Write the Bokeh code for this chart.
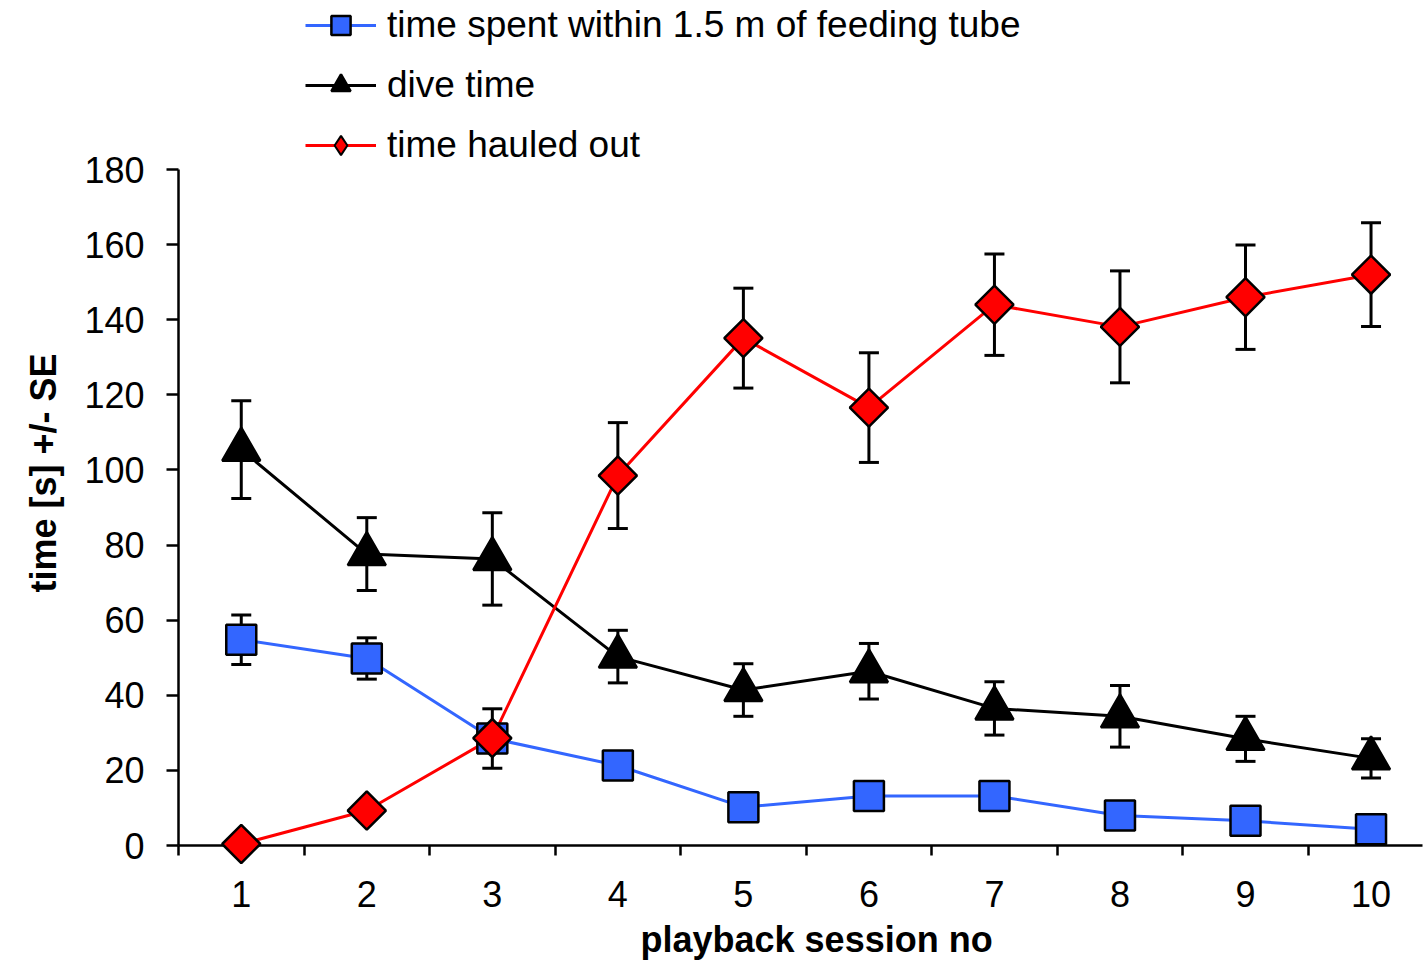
from bokeh.plotting import figure
from bokeh.models import (ColumnDataSource, Whisker, TeeHead, Range1d, FixedTicker,
                          Legend, LegendItem, Title)
from bokeh.embed import file_html
from bokeh.resources import INLINE
import math

# ---- data ----
sessions = [1, 2, 3, 4, 5, 6, 7, 8, 9, 10]
session_labels = ["1", "2", "3", "4", "5", "6", "7", "8", "9", "10"]

near_tube = [54.8, 49.8, 28.5, 21.3, 10.2, 13.2, 13.2, 8.0, 6.6, 4.3]
near_tube_se = [6.6, 5.5, 7.9, 2.0, 2.0, 2.0, 2.0, 2.0, 2.0, 1.5]

dive_time = [105.4, 77.6, 76.3, 50.3, 41.4, 46.4, 36.5, 34.4, 28.4, 23.2]
dive_time_se = [13.0, 9.7, 12.3, 7.0, 7.0, 7.4, 7.1, 8.2, 6.0, 5.2]

hauled_out = [0.4, 9.3, 28.6, 98.5, 135.1, 116.6, 144.0, 138.1, 146.0, 152.0]
hauled_out_se = [1.0, 1.0, 1.0, 14.1, 13.3, 14.6, 13.5, 14.9, 13.9, 13.8]

y_ticks = [0, 20, 40, 60, 80, 100, 120, 140, 160, 180]

FONT = "Liberation Sans"
BLUE = "#3366FF"
RED = "#FF0000"
BLACK = "#000000"
LW = 3

# frame extends above 180 so that the legend (drawn in the top area) is not clipped
p = figure(width=1423, height=967, output_backend="svg", toolbar_location=None,
           x_range=Range1d(0.5, 10.41), y_range=Range1d(0, 225),
           min_border_left=178, min_border_right=1, min_border_top=0,
           min_border_bottom=122)
p.outline_line_color = None
p.xgrid.grid_line_color = None
p.ygrid.grid_line_color = None
p.background_fill_color = "white"
p.border_fill_color = "white"

# axes
xa = p.xaxis[0]
xa.ticker = FixedTicker(ticks=sessions, minor_ticks=[s - 0.5 for s in sessions] + [10.5])
xa.major_label_overrides = {s: l for s, l in zip(sessions, session_labels)}
xa.major_tick_out = 10
xa.major_tick_in = 0
xa.major_tick_line_color = None
xa.minor_tick_out = 10
xa.minor_tick_in = 0
xa.minor_tick_line_color = BLACK
xa.minor_tick_line_width = 2.5
xa.axis_line_width = 2.5
xa.axis_line_color = BLACK
xa.major_label_text_font = FONT
xa.major_label_text_font_size = "36px"
xa.major_label_text_color = BLACK
xa.major_label_standoff = 25

ya = p.yaxis[0]
ya.ticker = FixedTicker(ticks=y_ticks)
ya.bounds = (0, 180)
ya.major_tick_out = 12
ya.major_tick_in = 0
ya.major_tick_line_width = 2.5
ya.major_tick_line_color = BLACK
ya.minor_tick_line_color = None
ya.axis_line_width = 2.5
ya.axis_line_color = BLACK
ya.major_label_text_font = FONT
ya.major_label_text_font_size = "36px"
ya.major_label_text_color = BLACK
ya.major_label_standoff = 22

# axis titles (as side-panel titles so they can be shifted along the axis)
xtitle = Title(text="playback session no", align="left", offset=462, standoff=15,
               vertical_align="bottom",
               text_font=FONT, text_font_size="36px", text_font_style="bold",
               text_color=BLACK)
p.add_layout(xtitle, "below")
ytitle = Title(text="time [s] +/- SE", align="left", offset=253, standoff=34,
               vertical_align="middle",
               text_font=FONT, text_font_size="36px", text_font_style="bold",
               text_color=BLACK)
p.add_layout(ytitle, "left")

series = [
    ("time spent within 1.5 m of feeding tube", near_tube, near_tube_se, BLUE, "square", 30, 0.0, "square"),
    ("dive time", dive_time, dive_time_se, BLACK, "triangle", 38, 0.0, "triangle"),
    ("time hauled out", hauled_out, hauled_out_se, RED, "square", 27, math.pi / 4, "diamond"),
]

items = []
for name, vals, se, color, marker, size, angle, legend_marker in series:
    src = ColumnDataSource(dict(
        x=sessions, y=vals,
        upper=[v + e for v, e in zip(vals, se)],
        lower=[v - e for v, e in zip(vals, se)],
    ))
    w = Whisker(base="x", upper="upper", lower="lower", source=src,
                line_color=BLACK, line_width=LW, level="underlay",
                upper_head=TeeHead(size=20, line_color=BLACK, line_width=LW),
                lower_head=TeeHead(size=20, line_color=BLACK, line_width=LW))
    p.add_layout(w)
    ln = p.line("x", "y", source=src, line_color=color, line_width=LW)
    sc = p.scatter("x", "y", source=src, marker=marker, size=size, angle=angle,
                   fill_color=color, line_color=BLACK, line_width=2.5, level="overlay")
    if legend_marker == marker:
        items.append(LegendItem(label=name, renderers=[ln, sc]))
    else:
        # legend-only marker shape (not drawn in the plot)
        lg = p.scatter("x", "y", source=src, marker=legend_marker, size=size,
                       fill_color=color, line_color=BLACK, line_width=2, visible=False)
        items.append(LegendItem(label=name, renderers=[ln, lg]))

legend = Legend(items=items, location=(127, 676), orientation="vertical",
                label_text_font=FONT, label_text_font_size="37px", label_text_color=BLACK,
                glyph_width=71, glyph_height=48, label_height=48, spacing=12,
                label_standoff=11, padding=0, margin=0,
                border_line_color=None, background_fill_alpha=0)
p.add_layout(legend, "center")

open("out.html", "w").write(file_html(p, INLINE))
